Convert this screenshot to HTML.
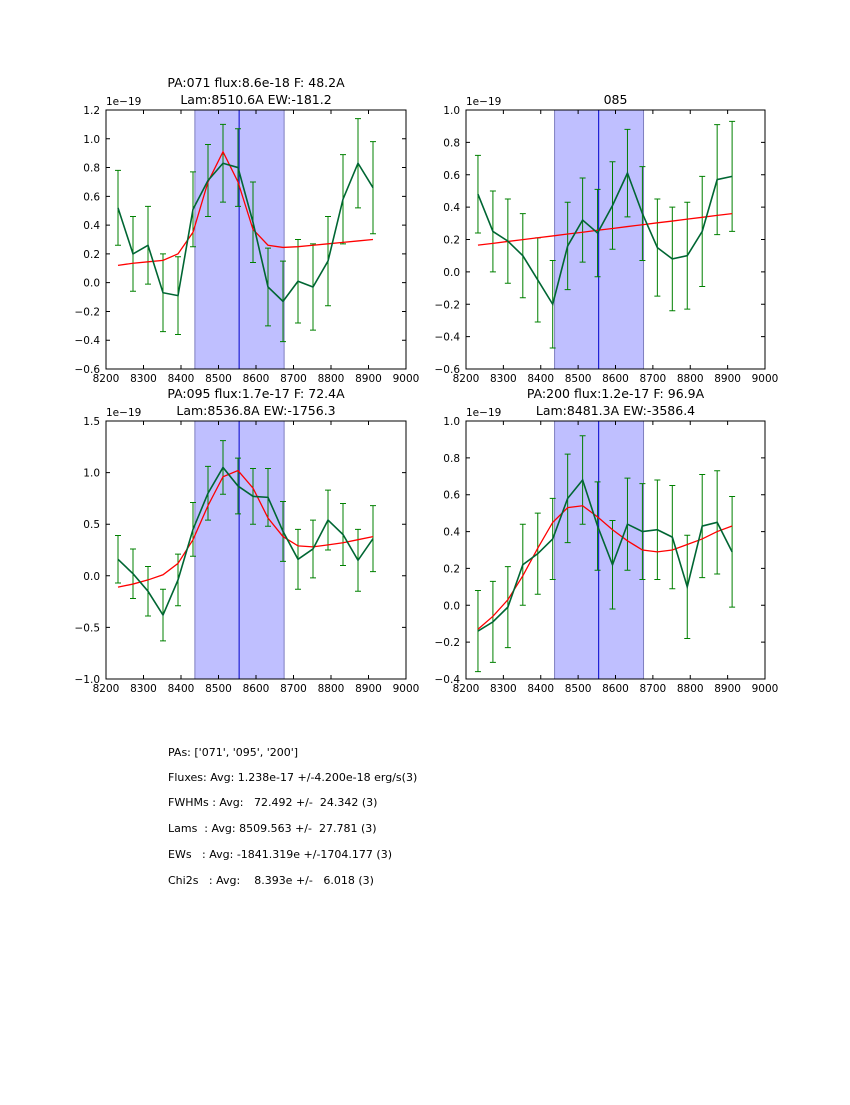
<!DOCTYPE html>
<html><head><meta charset="utf-8"><style>
body{margin:0;background:#fff;}
svg text{font-family:"DejaVu Sans","Liberation Sans",sans-serif;}
#summary text{white-space:pre;}
</style></head><body>
<svg id="fig" width="850" height="1100" xmlns="http://www.w3.org/2000/svg">
<rect width="850" height="1100" fill="#fff"/>
<g id="summary" font-size="11" fill="#000" xml:space="preserve">
<text x="168" y="756" xml:space="preserve">PAs: ['071', '095', '200']</text>
<text x="168" y="781" xml:space="preserve">Fluxes: Avg: 1.238e-17 +/-4.200e-18 erg/s(3)</text>
<text x="168" y="806" xml:space="preserve">FWHMs : Avg:   72.492 +/-  24.342 (3)</text>
<text x="168" y="832" xml:space="preserve">Lams  : Avg: 8509.563 +/-  27.781 (3)</text>
<text x="168" y="858" xml:space="preserve">EWs   : Avg: -1841.319e +/-1704.177 (3)</text>
<text x="168" y="884" xml:space="preserve">Chi2s   : Avg:    8.393e +/-   6.018 (3)</text>
</g>
</svg>
<script>
const xs = [8232,8272,8312,8352,8392,8432,8472,8512,8552,8592,8632,8672,8712,8752,8792,8832,8872,8912];
const p1Data = [0.52,0.20,0.26,-0.07,-0.09,0.51,0.71,0.83,0.80,0.42,-0.03,-0.13,0.01,-0.03,0.15,0.58,0.83,0.66];
const p1Err = [0.26,0.26,0.27,0.27,0.27,0.26,0.25,0.27,0.27,0.28,0.27,0.28,0.29,0.30,0.31,0.31,0.31,0.32];
const p1Model = [0.12,0.135,0.145,0.155,0.20,0.35,0.70,0.91,0.70,0.37,0.26,0.245,0.25,0.26,0.27,0.28,0.29,0.30];
const p2Data = [0.48,0.25,0.19,0.10,-0.05,-0.20,0.16,0.32,0.24,0.41,0.61,0.36,0.15,0.08,0.10,0.25,0.57,0.59];
const p2Err = [0.24,0.25,0.26,0.26,0.26,0.27,0.27,0.26,0.27,0.27,0.27,0.29,0.30,0.32,0.33,0.34,0.34,0.34];
const p2Model = [0.165,0.176,0.188,0.199,0.211,0.222,0.234,0.245,0.257,0.268,0.28,0.291,0.303,0.314,0.326,0.337,0.349,0.36];
const p3Data = [0.16,0.02,-0.15,-0.38,-0.04,0.45,0.80,1.05,0.87,0.77,0.76,0.43,0.16,0.26,0.54,0.40,0.15,0.36];
const p3Err = [0.23,0.24,0.24,0.25,0.25,0.26,0.26,0.26,0.27,0.27,0.28,0.29,0.29,0.28,0.29,0.30,0.30,0.32];
const p3Model = [-0.11,-0.08,-0.04,0.01,0.12,0.35,0.68,0.96,1.02,0.85,0.56,0.38,0.29,0.28,0.30,0.32,0.35,0.38];
const p4Data = [-0.14,-0.09,-0.01,0.22,0.28,0.36,0.58,0.68,0.43,0.22,0.44,0.40,0.41,0.37,0.10,0.43,0.45,0.29];
const p4Err = [0.22,0.22,0.22,0.22,0.22,0.22,0.24,0.24,0.24,0.24,0.25,0.26,0.27,0.28,0.28,0.28,0.28,0.30];
const p4Model = [-0.13,-0.06,0.03,0.16,0.31,0.45,0.53,0.54,0.48,0.41,0.35,0.30,0.29,0.30,0.33,0.36,0.40,0.43];
const xTicks = [8200,8300,8400,8500,8600,8700,8800,8900,9000];
const yTicks1 = [-0.6,-0.4,-0.2,0.0,0.2,0.4,0.6,0.8,1.0,1.2];
const yTicks2 = [-0.6,-0.4,-0.2,0.0,0.2,0.4,0.6,0.8,1.0];
const yTicks3 = [-1.0,-0.5,0.0,0.5,1.0,1.5];
const yTicks4 = [-0.4,-0.2,0.0,0.2,0.4,0.6,0.8,1.0];
const titles1 = ["PA:071 flux:8.6e-18 F: 48.2A","Lam:8510.6A EW:-181.2"];
const titles2 = ["085"];
const titles3 = ["PA:095 flux:1.7e-17 F: 72.4A","Lam:8536.8A EW:-1756.3"];
const titles4 = ["PA:200 flux:1.2e-17 F: 96.9A","Lam:8481.3A EW:-3586.4"];
const bandLo = 8437, bandHi = 8675, lineCenter = 8555;

const NS="http://www.w3.org/2000/svg";
const fig=document.getElementById('fig');
function mk(tag,attrs,parent){const e=document.createElementNS(NS,tag);for(const k in attrs)e.setAttribute(k,attrs[k]);(parent||fig).appendChild(e);return e;}

function panel(name,L,T,W,H,yT,data,err,model,titles){
  const g=mk('g',{});
  
  
  const x0=xTicks[0],x1=xTicks[xTicks.length-1],y0=yT[0],y1=yT[yT.length-1];
  const sx=v=>L+(v-x0)/(x1-x0)*W, sy=v=>T+H-(v-y0)/(y1-y0)*H;
  const band=mk('rect',{x:sx(bandLo),y:T,width:sx(bandHi)-sx(bandLo),height:H,fill:'#bfbfff',stroke:'#7f7fbf','stroke-width':1},g);
  
  
  const cl=mk('line',{x1:sx(lineCenter),x2:sx(lineCenter),y1:T,y2:T+H,stroke:'#0000cc','stroke-width':1},g);
  
  
  for(let i=0;i<xs.length;i++){
    const x=sx(xs[i]),a=sy(data[i]+err[i]),b=sy(data[i]-err[i]);
    const eb=mk('path',{d:`M${x},${a}V${b}M${x-3},${a}H${x+3}M${x-3},${b}H${x+3}`,stroke:'#008000','stroke-width':1,fill:'none'},g);
    
    
  }
  const mp=mk('polyline',{points:xs.map((v,i)=>sx(v)+','+sy(model[i])).join(' '),stroke:'#ff0000','stroke-width':1.3,fill:'none'},g);
  
  
  const dp=mk('polyline',{points:xs.map((v,i)=>sx(v)+','+sy(data[i])).join(' '),stroke:'#006633','stroke-width':1.6,fill:'none'},g);
  
  
  const fr=mk('rect',{x:L,y:T,width:W,height:H,fill:'none',stroke:'#000','stroke-width':1},g);
  
  
  xTicks.forEach(v=>{
    const x=sx(v);
    mk('path',{d:`M${x},${T+H}v-4M${x},${T}v4`,stroke:'#000','stroke-width':1},g);
    const t=mk('text',{x:x,y:T+H+13,'font-size':10.5,'text-anchor':'middle'},g);t.textContent=v;
    
    
  });
  yT.forEach(v=>{
    const y=sy(v);
    mk('path',{d:`M${L},${y}h4M${L+W},${y}h-4`,stroke:'#000','stroke-width':1},g);
    const t=mk('text',{x:L-6,y:y+4,'font-size':10.5,'text-anchor':'end'},g);t.textContent=v.toFixed(1).replace('-','\u2212');
    
    
  });
  const off=mk('text',{x:L,y:T-5,'font-size':10.5},g);off.textContent='1e\u221219';
  
  
  titles.forEach((s,i)=>{
    const t=mk('text',{x:L+W/2,y:T-6-(titles.length-1-i)*17,'font-size':12.5,'text-anchor':'middle'},g);t.textContent=s;
    
    
  });
}
panel('panel-pa071',106,110,300,259,yTicks1,p1Data,p1Err,p1Model,titles1);
panel('panel-pa085',466,110,299,259,yTicks2,p2Data,p2Err,p2Model,titles2);
panel('panel-pa095',106,421,300,258,yTicks3,p3Data,p3Err,p3Model,titles3);
panel('panel-pa200',466,421,299,258,yTicks4,p4Data,p4Err,p4Model,titles4);
</script>
</body></html>
